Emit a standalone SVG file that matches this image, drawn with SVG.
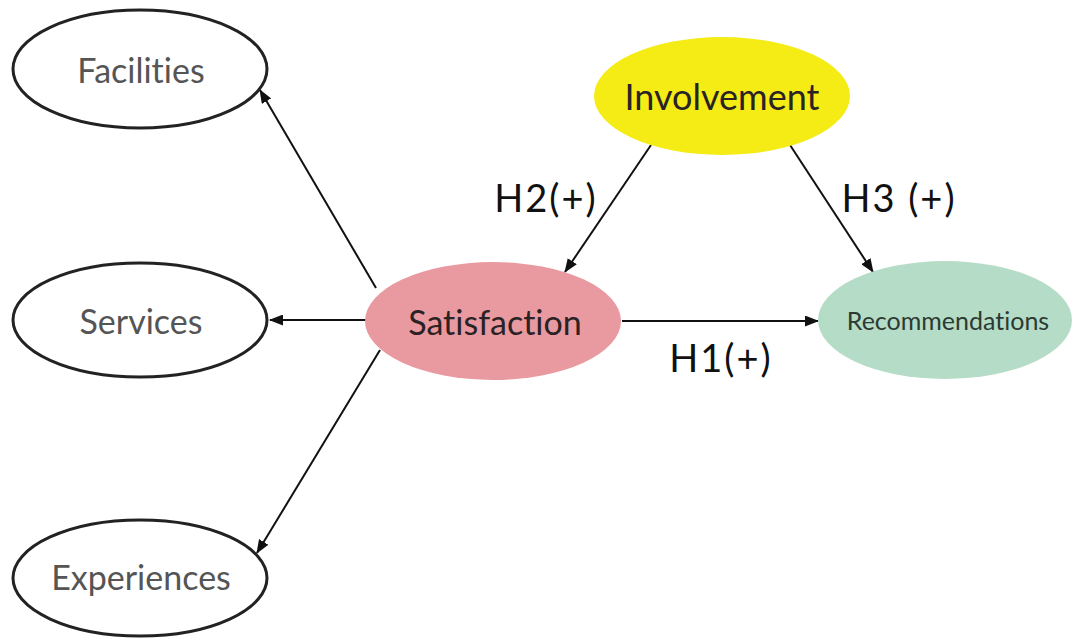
<svg xmlns="http://www.w3.org/2000/svg" width="1072" height="639" viewBox="0 0 1072 639">
<defs>
<marker id="arr" markerWidth="14" markerHeight="11" refX="13" refY="5.5" orient="auto" markerUnits="userSpaceOnUse">
<path d="M0,0 L14,5.5 L0,11 Z" fill="#111"/>
</marker>
<style>
.wn{fill:#fff;stroke:#222;stroke-width:3}
.t{font-family:Lato,"Liberation Sans",sans-serif;text-anchor:middle;dominant-baseline:central;font-variant-ligatures:none}
.g{fill:#555;font-size:34px}
.d{fill:#2a2224;font-size:36px}
.lab{font-family:Lato,"Liberation Sans",sans-serif;font-size:38px;letter-spacing:2px;fill:#111;text-anchor:middle;dominant-baseline:central}
.c{stroke:#111;stroke-width:2;fill:none;marker-end:url(#arr)}
</style>
</defs>
<rect width="1072" height="639" fill="#fff"/>
<g id="connectors">
<line class="c" x1="376" y1="288" x2="260" y2="90"/>
<line class="c" x1="366" y1="320" x2="270" y2="320"/>
<line class="c" x1="380" y1="350" x2="257" y2="553"/>
<line class="c" x1="651" y1="145" x2="565" y2="272"/>
<line class="c" x1="790" y1="145" x2="873" y2="272"/>
<line class="c" x1="622" y1="321" x2="818" y2="321"/>
<text class="lab" x="546" y="197">H2(+)</text>
<text class="lab" x="899" y="197">H3 (+)</text>
<text class="lab" x="721" y="357">H1(+)</text>
</g>
<g id="facilities"><ellipse class="wn" cx="140" cy="69" rx="127" ry="59"/><text class="t g" x="141" y="69">Facilities</text></g>
<g id="services"><ellipse class="wn" cx="140" cy="320" rx="127" ry="57"/><text class="t g" x="141" y="320">Services</text></g>
<g id="experiences"><ellipse class="wn" cx="140" cy="578" rx="127" ry="58"/><text class="t g" x="141" y="576">Experiences</text></g>
<g id="involvement"><ellipse cx="722" cy="96" rx="128" ry="59" fill="#f4ec14"/><text class="t d" x="722" y="96">Involvement</text></g>
<g id="satisfaction"><ellipse cx="493" cy="321" rx="128" ry="59" fill="#e99aa0"/><text class="t d" x="495" y="321" style="font-size:34px">Satisfaction</text></g>
<g id="recommendations"><ellipse cx="945" cy="320" rx="127" ry="59" fill="#b4dcc6"/><text class="t d" x="948" y="320" style="font-size:25px;fill:#2d3a33">Recommendations</text></g>
</svg>
